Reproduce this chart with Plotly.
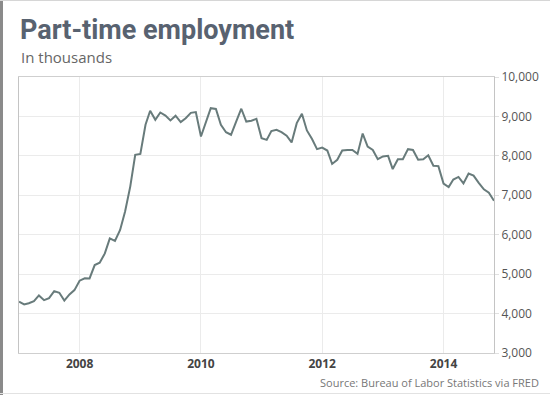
import plotly.graph_objects as go
import pandas as pd

start_month = "2007-01-01"
values = [
    4300, 4230, 4263, 4315, 4460, 4340, 4390, 4570, 4527, 4330, 4485, 4595,
    4834, 4895, 4890, 5230, 5290, 5525, 5905, 5845, 6120, 6590, 7220, 8025,
    8050, 8790, 9145, 8915, 9100, 9020, 8900, 9020, 8855, 8955, 9090, 9110,
    8490, 8870, 9210, 9190, 8790, 8600, 8535, 8870, 9195, 8870, 8890, 8940,
    8450, 8405, 8630, 8660, 8600, 8510, 8340, 8830, 9070, 8645, 8425, 8170,
    8210, 8135, 7795, 7900, 8135, 8150, 8150, 8050, 8565, 8235, 8150, 7915,
    7985, 8000, 7665, 7915, 7915, 8170, 8150, 7900, 7915, 8015, 7750, 7740,
    7295, 7210, 7400, 7465, 7300, 7550, 7500, 7315, 7150, 7065, 6860,
]
dates = pd.date_range(start_month, periods=len(values), freq="MS")

x_tick_vals = ["2008-01-01", "2010-01-01", "2012-01-01", "2014-01-01"]
x_tick_text = ["2008", "2010", "2012", "2014"]
y_tick_vals = [3000, 4000, 5000, 6000, 7000, 8000, 9000, 10000]
y_tick_text = ["3,000", "4,000", "5,000", "6,000", "7,000", "8,000", "9,000", "10,000"]

fig = go.Figure()
fig.add_trace(go.Scatter(
    x=dates, y=values, mode="lines",
    line=dict(color="#687b7b", width=2),
    hoverinfo="skip",
))

L, R, T, B = 19, 56, 77, 42
W, H = 550, 395
pw, ph = W - L - R, H - T - B

def px(x):
    return (x - L) / pw

def py(y):
    return (H - B - y) / ph

fig.update_layout(
    width=W, height=H,
    margin=dict(l=L, r=R, t=T, b=B),
    paper_bgcolor="white", plot_bgcolor="white",
    showlegend=False,
    font=dict(family="Open Sans", color="#555"),
    xaxis=dict(
        range=["2007-01-01", "2014-11-01"],
        tickvals=x_tick_vals, ticktext=x_tick_text,
        tickfont=dict(family="Open Sans", size=12, color="#444", weight="bold"),
        showgrid=True, gridcolor="#ebebeb", gridwidth=1,
        showline=True, linecolor="#cfcfcf", linewidth=1, mirror=True,
        ticks="", zeroline=False,
    ),
    yaxis=dict(
        range=[3000, 10000], side="right",
        tickvals=y_tick_vals, ticktext=y_tick_text,
        tickfont=dict(family="Open Sans", size=12, color="#555"),
        showgrid=True, gridcolor="#ebebeb", gridwidth=1,
        showline=True, linecolor="#c4c4c4", linewidth=1, mirror=True,
        ticks="outside", ticklen=4, tickcolor="#e0e0e0",
        zeroline=False,
    ),
)

fig.add_annotation(
    text="<b>Part-time employment</b>", xref="paper", yref="paper",
    x=px(18), y=py(12), xanchor="left", yanchor="top", showarrow=False,
    font=dict(family="Roboto", size=27, color="#586270"),
)
fig.add_annotation(
    text="In thousands", xref="paper", yref="paper",
    x=px(19), y=py(45), xanchor="left", yanchor="top", showarrow=False,
    font=dict(family="Open Sans", size=15, color="#666"),
)
fig.add_annotation(
    text="Source: Bureau of Labor Statistics via FRED", xref="paper", yref="paper",
    x=px(541), y=py(392), xanchor="right", yanchor="bottom", showarrow=False,
    font=dict(family="Open Sans", size=11, color="#777"),
)

# outer frame
fig.add_shape(type="line", xref="paper", yref="paper",
              x0=px(1.5), x1=px(1.5), y0=py(0), y1=py(395),
              line=dict(color="#8a8a8a", width=3))
fig.add_shape(type="line", xref="paper", yref="paper",
              x0=px(0), x1=px(550), y0=py(0.5), y1=py(0.5),
              line=dict(color="#d6d6d6", width=1))
fig.add_shape(type="line", xref="paper", yref="paper",
              x0=px(0), x1=px(550), y0=py(393.5), y1=py(393.5),
              line=dict(color="#e2e2e2", width=1))

fig.write_html(
    "out.html",
    config={"displayModeBar": False},
    post_script="document.body.style.margin='0';document.body.style.overflow='hidden';",
)
